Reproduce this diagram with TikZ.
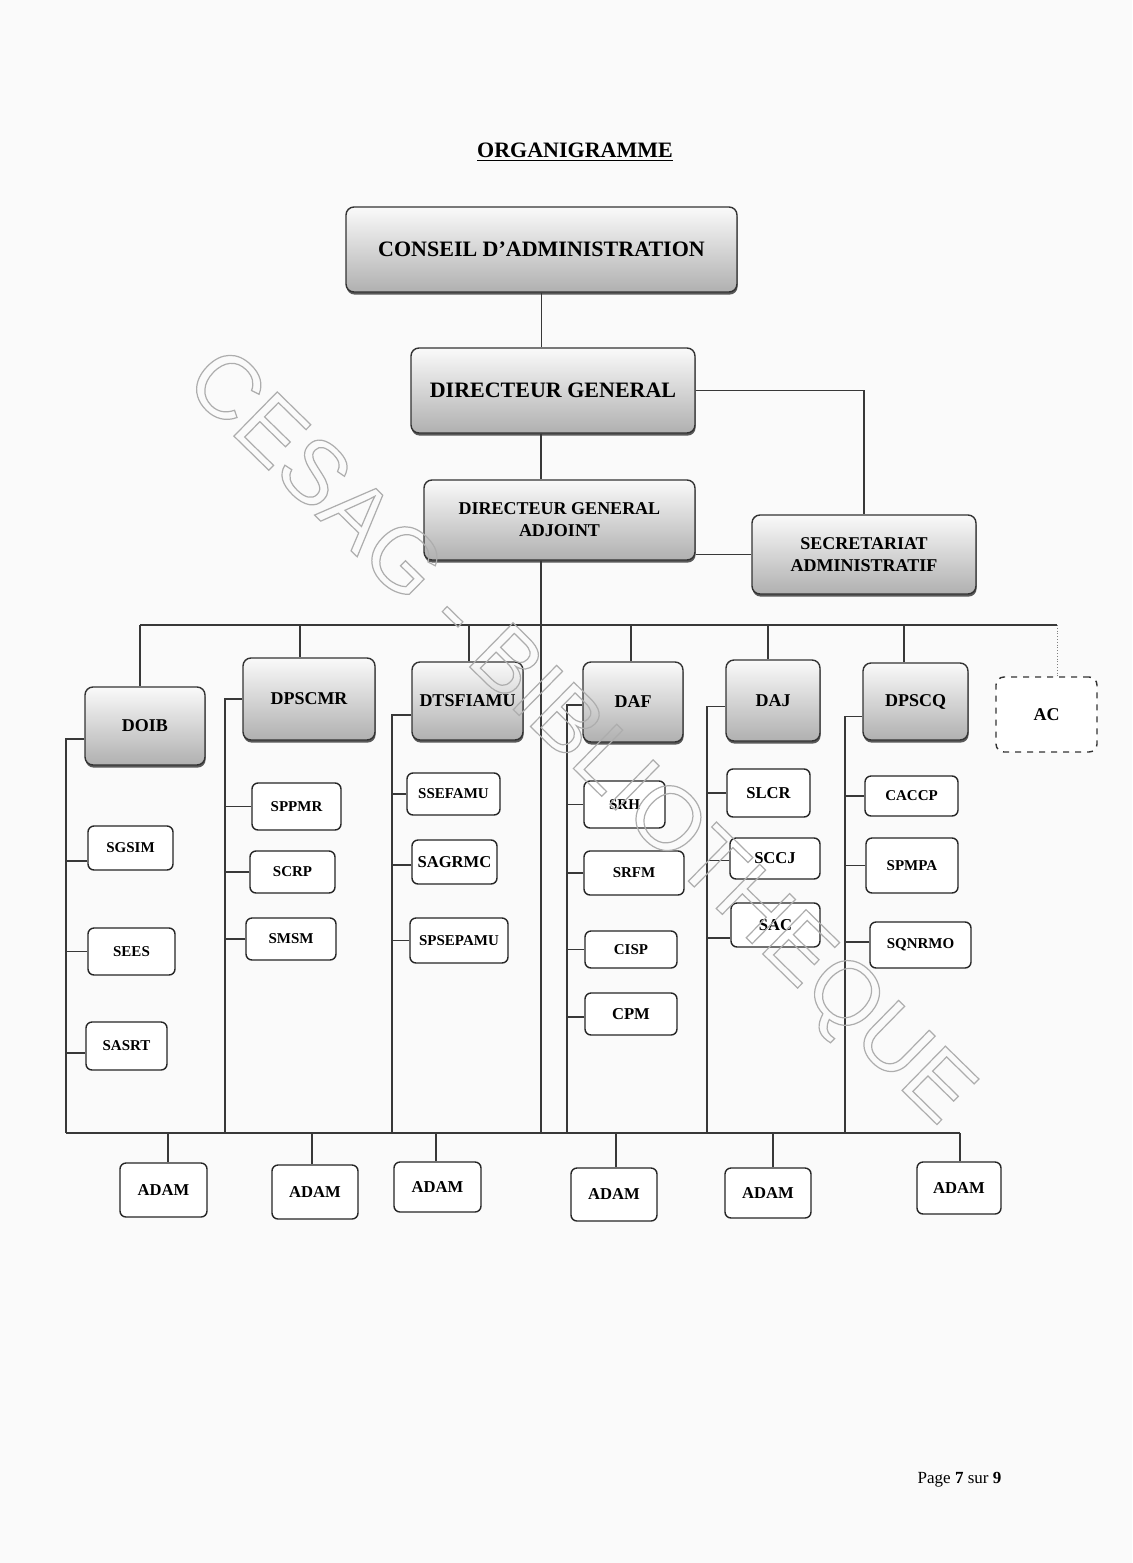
\documentclass[tikz,border=0pt]{standalone}
\usepackage{fontspec}
\setmainfont{Liberation Serif}
\setsansfont{Liberation Sans}
\usetikzlibrary{shadows}

\begin{document}
\begin{tikzpicture}
  [x=.5pt,y=-.5pt,line width=.7pt,
   every node/.style={inner sep=0pt,font=\bfseries},
   sz/.style 2 args={minimum width=#1*.5pt,minimum height=#2*.5pt},
   dir/.style={draw=black!80,rounded corners=4pt,top color=gray!4,bottom color=gray!62,
     drop shadow={shadow xshift=.3pt,shadow yshift=-1.3pt,fill=black!65,opacity=1},
     font=\bfseries\fontsize{9}{11}\selectfont,align=center},
   serv/.style={draw=black!85,rounded corners=3pt,fill=white,font=\bfseries\fontsize{7.5}{9}\selectfont},
   gros/.style={font=\bfseries\fontsize{8.3}{10}\selectfont},
   lnk/.style={draw=black!78}]
  \useasboundingbox (0,0) rectangle (1132,1563);
  \fill[black!2] (0,0) rectangle (1132,1563);

  \node[font=\bfseries\fontsize{11}{13}\selectfont] (titre) at (575,152) {\underline{ORGANIGRAMME}};

  % direction
  \node[dir,sz={391}{85},font=\bfseries\fontsize{11}{13}\selectfont] (ca) at (541.5,249.5) {CONSEIL D'ADMINISTRATION};
  \node[dir,sz={284}{85},font=\bfseries\fontsize{11}{13}\selectfont] (dg) at (553,390.5) {DIRECTEUR GENERAL};
  \node[dir,sz={271}{80}] (dga) at (559.5,520) {DIRECTEUR GENERAL\\ADJOINT};
  \node[dir,sz={224}{79}] (sa) at (864,554.5) {SECRETARIAT\\ADMINISTRATIF};

  % directions techniques
  \node[dir,sz={120}{78}] (doib) at (145,726) {DOIB};
  \node[dir,sz={132}{82}] (dpscmr) at (309,699) {DPSCMR};
  \node[dir,sz={111}{78}] (dtsfiamu) at (467.5,701) {DTSFIAMU};
  \node[dir,sz={100}{80}] (daf) at (633,702) {DAF};
  \node[dir,sz={94}{81}] (daj) at (773,700.5) {DAJ};
  \node[dir,sz={105}{77}] (dpscq) at (915.5,701.5) {DPSCQ};
  \node[draw=black!80,dashed,rounded corners=4pt,fill=white,sz={101}{75},
        font=\bfseries\fontsize{9}{11}\selectfont] (ac) at (1046.5,714.5) {AC};

  % services
  \node[serv,sz={85}{44}] (sgsim) at (130.5,848) {SGSIM};
  \node[serv,sz={87}{47}] (sees) at (131.5,951.5) {SEES};
  \node[serv,sz={81}{48}] (sasrt) at (126.5,1046) {SASRT};
  \node[serv,sz={89}{47}] (sppmr) at (296.5,806.5) {SPPMR};
  \node[serv,sz={85}{42}] (scrp) at (292.5,872) {SCRP};
  \node[serv,sz={90}{42}] (smsm) at (291,939) {SMSM};
  \node[serv,sz={93}{42}] (ssefamu) at (453.5,794) {SSEFAMU};
  \node[serv,gros,sz={85}{44}] (sagrmc) at (454.5,862) {SAGRMC};
  \node[serv,sz={98}{45}] (spsepamu) at (459,940.5) {SPSEPAMU};
  \node[serv,sz={81}{47}] (srh) at (624.5,804.5) {SRH};
  \node[serv,sz={100}{44}] (srfm) at (634,873) {SRFM};
  \node[serv,sz={92}{37}] (cisp) at (631,949.5) {CISP};
  \node[serv,gros,sz={92}{42}] (cpm) at (631,1014) {CPM};
  \node[serv,gros,sz={83}{48}] (slcr) at (768.5,793) {SLCR};
  \node[serv,gros,sz={90}{41}] (sccj) at (775,858.5) {SCCJ};
  \node[serv,gros,sz={89}{44}] (sac) at (775.5,925) {SAC};
  \node[serv,sz={93}{40}] (caccp) at (911.5,796) {CACCP};
  \node[serv,sz={92}{55}] (spmpa) at (912,865.5) {SPMPA};
  \node[serv,sz={101}{46}] (sqnrmo) at (920.5,945) {SQNRMO};

  % ADAM
  \node[serv,gros,sz={87}{54}] (adama) at (163.5,1190) {ADAM};
  \node[serv,gros,sz={86}{54}] (adamb) at (315,1192) {ADAM};
  \node[serv,gros,sz={87}{50}] (adamc) at (437.5,1187) {ADAM};
  \node[serv,gros,sz={86}{53}] (adamd) at (614,1194.5) {ADAM};
  \node[serv,gros,sz={86}{50}] (adame) at (768,1193) {ADAM};
  \node[serv,gros,sz={84}{52}] (adamf) at (959,1188) {ADAM};

  % bus
  \coordinate (t1) at (140,625);
  \coordinate (t2) at (300,625);
  \coordinate (t3) at (469,625);
  \coordinate (t4) at (631,625);
  \coordinate (t5) at (768,625);
  \coordinate (t6) at (904,625);
  \coordinate (t7) at (1057,625);
  \coordinate (k1) at (66,1133);
  \coordinate (k2) at (225,1133);
  \coordinate (k3) at (392,1133);
  \coordinate (k4) at (541,1133);
  \coordinate (k5) at (567,1133);
  \coordinate (k6) at (707,1133);
  \coordinate (k7) at (845,1133);
  \coordinate (kf) at (960,1133);
  \coordinate (b1) at (168,1133);
  \coordinate (b2) at (312,1133);
  \coordinate (b3) at (436,1133);
  \coordinate (b4) at (616,1133);
  \coordinate (b5) at (773,1133);

  \draw[lnk] (ca.south) -- (ca.south |- dg.north);
  \draw[lnk] (k4 |- dg.south) -- (k4 |- dga.north);
  \draw[lnk] (dg.east) -| (sa.north);
  \draw[lnk] (sa.west) -- (sa.west -| dga.east);
  \draw[lnk] (k4 |- dga.south) -- (k4);
  \draw[lnk] (t1) -- (t7);
  \foreach \t/\n in {t1/doib,t2/dpscmr,t3/dtsfiamu,t4/daf,t5/daj,t6/dpscq}
    \draw[lnk] (\t) -- (\t |- \n.north);
  \draw[densely dotted,thin,gray] (t7) -- (t7 |- ac.north);

  \foreach \n/\s/\k in {doib/-6.5pt/k1,dpscmr/0pt/k2,dtsfiamu/-7pt/k3,daf/-1.5pt/k5,daj/-3pt/k6,dpscq/-7.5pt/k7}
    \draw[lnk] ([yshift=\s]\n.west) -| (\k);

  \foreach \n/\s/\k in {sgsim/-6.5pt/k1,sees/0pt/k1,sasrt/-3.5pt/k1,sppmr/0pt/k2,scrp/0pt/k2,smsm/0pt/k2,
      ssefamu/0pt/k3,sagrmc/-1.5pt/k3,spsepamu/0pt/k3,srh/0pt/k5,srfm/0pt/k5,cisp/0pt/k5,cpm/-1.5pt/k5,
      slcr/0pt/k6,sccj/-1pt/k6,sac/-6.5pt/k6,caccp/0pt/k7,spmpa/0pt/k7,sqnrmo/1.5pt/k7}{
    \path ([yshift=\s]\n.west) coordinate (p);
    \draw[lnk] (p) -- (p -| \k);
  }

  \draw[lnk] (k1) -- (kf);
  \foreach \b/\n in {b1/adama,b2/adamb,b3/adamc,b4/adamd,b5/adame,kf/adamf}
    \draw[lnk] (\b) -- (\b |- \n.north);

  \node[font=\fontsize{8.5}{10}\selectfont,anchor=west] (pied) at (917,1480) {Page \textbf{7} sur \textbf{9}};

  % filigrane (lettres creuses)
  \node[rotate=-44.4,text=black!32,font=\sffamily\fontsize{45}{45}\selectfont] (filigrane) at (577,740)
    {\special{pdf:literal direct 1 Tr 0.6 w}CESAG - BIBLIOTHEQUE};
\end{tikzpicture}
\end{document}
